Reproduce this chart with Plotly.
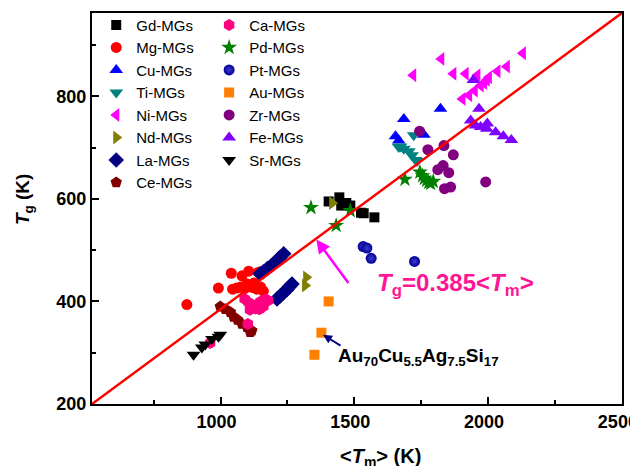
import plotly.graph_objects as go

# ---- data (Tm, Tg in K) ----
gd_tm = [1404, 1444, 1451, 1470, 1485, 1525, 1535, 1575]
gd_tg = [595, 603, 587, 592, 587, 573, 572, 564]
mg_tm = [874, 992, 1040, 1080, 1105, 1142, 1045, 1060, 1075, 1090, 1105, 1120, 1135, 1150, 1160, 1099, 1111, 1125]
mg_tg = [394, 426, 455, 450, 459, 457, 424, 426, 428, 425, 430, 427, 424, 428, 420, 434, 431, 436]
cu_tm = [1685, 1822, 1654, 1666, 1760]
cu_tg = [756, 776, 722, 714, 725]
ti_tm = [1722, 1666, 1673, 1685, 1704, 1716, 1735, 1729]
ti_tg = [724, 701, 702, 698, 693, 685, 674, 676]
ni_tm = [1720, 1825, 1870, 1916, 1960, 2003, 2035, 2070, 2130, 1904, 1929, 1950, 1972, 1985, 1995]
ni_tg = [841, 873, 844, 844, 841, 837, 849, 858, 884, 795, 802, 811, 821, 826, 832]
nd_tm = [1417, 1320, 1316]
nd_tg = [592, 447, 431]
la_tm = [1148, 1160, 1175, 1190, 1205, 1220, 1236, 1211, 1222, 1235, 1248, 1258, 1267]
la_tg = [454, 458, 464, 470, 477, 485, 493, 405, 410, 417, 423, 429, 434]
ce_tm = [999, 1018, 1037, 1049, 1064, 1080, 1099, 1117, 1111]
ce_tg = [390, 385, 379, 370, 364, 356, 350, 343, 340]
ca_tm = [1090, 1105, 1120, 1135, 1150, 1165, 1178, 1110, 1130, 1145, 1160, 1102, 961]
ca_tg = [405, 398, 392, 394, 400, 404, 402, 384, 386, 385, 390, 356, 319]
pd_tm = [1338, 1432, 1485, 1689, 1745, 1755, 1762, 1770, 1778, 1785, 1795]
pd_tg = [583, 548, 577, 638, 652, 645, 640, 636, 632, 630, 634]
pt_tm = [1533, 1547, 1563, 1725]
pt_tg = [507, 504, 484, 478]
au_tm = [1404, 1377, 1351]
au_tg = [400, 339, 296]
zr_tm = [1744, 1775, 1835, 1870, 1812, 1832, 1853, 1837, 1860, 1991]
zr_tg = [732, 696, 704, 686, 657, 665, 651, 620, 623, 633]
fe_tm = [1945, 1966, 1935, 1953, 1972, 1997, 1995, 2028, 2057, 2087]
fe_tg = [832, 776, 753, 743, 740, 747, 737, 730, 722, 715]
sr_tm = [899, 930, 943, 968, 992, 999]
sr_tg = [296, 310, 316, 327, 331, 335]

slope = 0.385
line_tm = [519.5, 2500]

x_ticks = [1000, 1500, 2000, 2500]
y_ticks = [200, 400, 600, 800]

FONT = "Liberation Sans, Arial, sans-serif"

series = [
    ("Gd-MGs", gd_tm, gd_tg, "square", "#000000", 10, "legend"),
    ("Mg-MGs", mg_tm, mg_tg, "circle", "#FF0000", 11, "legend"),
    ("Cu-MGs", cu_tm, cu_tg, "triangle-up", "#0000FF", 12, "legend"),
    ("Ti-MGs", ti_tm, ti_tg, "triangle-down", "#008080", 12, "legend"),
    ("Ni-MGs", ni_tm, ni_tg, "triangle-left", "#FF00FF", 12, "legend"),
    ("Nd-MGs", nd_tm, nd_tg, "triangle-right", "#808000", 12, "legend"),
    ("La-MGs", la_tm, la_tg, "diamond", "#000080", 12, "legend"),
    ("Ce-MGs", ce_tm, ce_tg, "pentagon", "#800000", 12, "legend"),
    ("Ca-MGs", ca_tm, ca_tg, "hexagon", "#FF0080", 12, "legend2"),
    ("Pd-MGs", pd_tm, pd_tg, "star", "#008000", 12, "legend2"),
    ("Pt-MGs", pt_tm, pt_tg, "circle", "#000099", 11, "legend2"),
    ("Au-MGs", au_tm, au_tg, "square", "#FF8000", 10, "legend2"),
    ("Zr-MGs", zr_tm, zr_tg, "circle", "#800080", 11, "legend2"),
    ("Fe-MGs", fe_tm, fe_tg, "triangle-up", "#8000FF", 12, "legend2"),
    ("Sr-MGs", sr_tm, sr_tg, "triangle-down", "#000000", 12, "legend2"),
]

fig = go.Figure()
for name, xs, ys, sym, col, size, leg in series:
    marker = dict(symbol=sym, color=col, size=size, line=dict(width=0))
    if name == "Pt-MGs":
        marker["gradient"] = dict(type="radial", color="#3c3ccc")
    fig.add_trace(go.Scatter(x=xs, y=ys, mode="markers", name=name,
                             marker=marker, legend=leg))

fig.add_trace(go.Scatter(x=line_tm, y=[slope * t for t in line_tm], mode="lines",
                         line=dict(color="#FF0000", width=2.5), showlegend=False,
                         cliponaxis=False))

fig.add_annotation(x=1358, y=521, ax=1482, ay=433, xref="x", yref="y", axref="x", ayref="y",
                   showarrow=True, arrowhead=2, arrowsize=1.1, arrowwidth=2.5,
                   arrowcolor="#FF00FF", text="")
fig.add_annotation(x=1579, y=434, xref="x", yref="y", xanchor="left", yanchor="middle",
                   showarrow=False,
                   text="<b><i>T</i><sub>g</sub>=0.385&lt;<i>T</i><sub>m</sub>&gt;</b>",
                   font=dict(family=FONT, size=24, color="#FF1493"))
fig.add_annotation(x=1383, y=335, ax=1454, ay=312, xref="x", yref="y", axref="x", ayref="y",
                   showarrow=True, arrowhead=2, arrowsize=1, arrowwidth=1.8,
                   arrowcolor="#000080", text="")
fig.add_annotation(x=1430, y=291, xref="x", yref="y", xanchor="left", yanchor="middle",
                   showarrow=False,
                   text="<b>Au<sub>70</sub>Cu<sub>5.5</sub>Ag<sub>7.5</sub>Si<sub>17</sub></b>",
                   font=dict(family=FONT, size=19, color="#000000"))

# axis titles
fig.add_annotation(x=0.545, y=-0.136, xref="paper", yref="paper", xanchor="center",
                   yanchor="middle", showarrow=False,
                   text="<b>&lt;<i>T</i><sub>m</sub>&gt; (K)</b>",
                   font=dict(family=FONT, size=20, color="#000000"))
fig.add_annotation(x=-0.128, y=0.522, xref="paper", yref="paper", xanchor="center",
                   yanchor="middle", showarrow=False, textangle=-90,
                   text="<b><i>T</i><sub>g</sub> (K)</b>",
                   font=dict(family=FONT, size=19, color="#000000"))

axis_common = dict(showgrid=False, zeroline=False, showline=True, linecolor="#000000",
                   linewidth=2, mirror=True, ticks="inside", ticklen=7, tickwidth=1.5,
                   tickcolor="#000000", automargin=False, ticklabeloverflow="allow",
                   tickfont=dict(family=FONT, size=18, color="#000000"))

fig.update_xaxes(range=[519.5, 2500.5], tickvals=x_ticks,
                 ticktext=["<b>%d</b>" % v for v in x_ticks], ticklabelshift=-4,
                 minor=dict(tickvals=[750, 1250, 1750, 2250], ticks="inside", ticklen=4,
                            tickwidth=1.5, tickcolor="#000000"),
                 **axis_common)
fig.update_yaxes(range=[200, 962.5], tickvals=y_ticks,
                 ticktext=["<b>%d</b>" % v for v in y_ticks],
                 minor=dict(tickvals=[300, 500, 700, 900], ticks="inside", ticklen=4,
                            tickwidth=1.5, tickcolor="#000000"),
                 **axis_common)

legend_common = dict(font=dict(family=FONT, size=15, color="#000000"),
                     bgcolor="rgba(0,0,0,0)", borderwidth=0, xanchor="left",
                     yanchor="top", itemsizing="trace", tracegroupgap=0)
# page body adds an 8px offset; figure size/margins compensate for it
fig.update_layout(
    width=630, height=458,
    margin=dict(l=84, r=16, t=5, b=62, autoexpand=False),
    paper_bgcolor="white", plot_bgcolor="white",
    font=dict(family=FONT, color="#000000"),
    legend=dict(x=0.008, y=1.011, **legend_common),
    legend2=dict(x=0.221, y=1.011, **legend_common),
)

fig.write_html("out.html")
